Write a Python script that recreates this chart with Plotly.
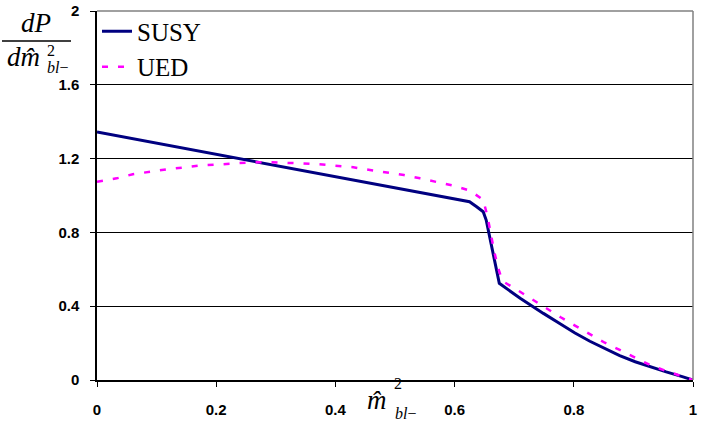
import plotly.graph_objects as go

# values
susy_x = [0.0, 0.1, 0.2, 0.3, 0.4, 0.5, 0.625, 0.637, 0.648, 0.653, 0.659,
          0.675, 0.71, 0.727, 0.749, 0.777, 0.802, 0.827, 0.852, 0.877,
          0.903, 0.928, 0.955, 0.982, 1.0]
susy_y = [1.344, 1.284, 1.223, 1.163, 1.102, 1.042, 0.966, 0.939, 0.912, 0.867, 0.777,
          0.524, 0.443, 0.406, 0.361, 0.305, 0.255, 0.210, 0.169, 0.132,
          0.099, 0.071, 0.044, 0.018, 0.0]

ued_x = [0.0, 0.033, 0.06, 0.089, 0.117, 0.146, 0.174, 0.203, 0.232, 0.26,
         0.289, 0.317, 0.345, 0.373, 0.401, 0.43, 0.458, 0.486, 0.515, 0.542,
         0.57, 0.598, 0.626, 0.648, 0.655, 0.66, 0.666, 0.672, 0.68, 0.705,
         0.729, 0.753, 0.778, 0.802, 0.827, 0.852, 0.877, 0.903, 0.928, 0.955,
         0.982, 1.0]
ued_y = [1.075, 1.093, 1.115, 1.129, 1.142, 1.152, 1.163, 1.168, 1.174, 1.18,
         1.18, 1.178, 1.174, 1.169, 1.162, 1.153, 1.138, 1.126, 1.111, 1.093,
         1.073, 1.053, 1.026, 0.976, 0.889, 0.798, 0.705, 0.618, 0.537, 0.488,
         0.439, 0.389, 0.34, 0.295, 0.249, 0.202, 0.163, 0.119, 0.081, 0.049,
         0.018, 0.0]

x_ticks = [0, 0.2, 0.4, 0.6, 0.8, 1]
x_labels = ['0', '0.2', '0.4', '0.6', '0.8', '1']
y_ticks = [0, 0.4, 0.8, 1.2, 1.6, 2]
y_labels = ['0', '0.4', '0.8', '1.2', '1.6', '2']

W, H = 704, 429
L, R, T, B = 97, 11, 11, 49


def px(x, y):
    # pixel position -> paper coords
    return (x - L) / (W - L - R), (H - B - y) / (H - T - B)


serif = 'Liberation Serif, Times New Roman, serif'
sans = 'Liberation Sans, Arial, sans-serif'

fig = go.Figure()
fig.add_trace(go.Scatter(
    x=susy_x, y=susy_y, mode='lines', name='SUSY',
    line=dict(color='#000080', width=3)
))
fig.add_trace(go.Scatter(
    x=ued_x, y=ued_y, mode='lines', name='UED',
    line=dict(color='#FF00FF', width=2.5, dash='6px,10px')
))

annotations = []


def label(text, x, y, size):
    ax, ay = px(x, y)
    annotations.append(dict(
        text=text, x=ax, y=ay, xref='paper', yref='paper',
        xanchor='center', yanchor='middle', showarrow=False,
        font=dict(family=serif, size=size, color='black')
    ))


# y axis title as a fraction
label('<i>dP</i>', 36, 23, 27)
label('<i>dm\u0302</i>', 23, 57, 27)
label('2', 51, 50, 16)
label('<i>bl</i>\u2212', 57, 68, 16)
# x axis title
label('<i>m\u0302</i>', 377, 400, 27)
label('2', 398, 383, 16)
label('<i>bl</i>\u2212', 406, 413, 16)

bx0, by0 = px(2, 41)
bx1, _ = px(71, 41)

fig.update_layout(
    width=W, height=H,
    margin=dict(l=L, r=R, t=T, b=B, autoexpand=False),
    paper_bgcolor='white', plot_bgcolor='white',
    showlegend=True,
    legend=dict(
        x=0.0, y=1.007, xanchor='left', yanchor='top',
        bgcolor='rgba(0,0,0,0)',
        font=dict(family=serif, size=25, color='black'),
        tracegroupgap=0, itemwidth=30
    ),
    annotations=annotations,
    shapes=[
        dict(type='line', xref='paper', yref='paper', x0=bx0, x1=bx1, y0=by0, y1=by0,
             line=dict(color='black', width=1.5)),
        dict(type='line', xref='paper', yref='paper', x0=0, x1=1, y0=1, y1=1,
             line=dict(color='#808080', width=1.5)),
        dict(type='line', xref='paper', yref='paper', x0=1, x1=1, y0=0, y1=1,
             line=dict(color='#808080', width=1.5)),
    ],
    xaxis=dict(
        range=[0, 1], tickvals=x_ticks, ticktext=x_labels, automargin=False,
        showgrid=False, zeroline=False,
        showline=True, linecolor='black', linewidth=1.5,
        ticks='outside', ticklen=5, tickcolor='black', tickwidth=1,
        ticklabelstandoff=10,
        tickfont=dict(family=sans, size=15, color='black', weight='bold')
    ),
    yaxis=dict(
        range=[0, 2], tickvals=y_ticks, ticktext=y_labels, automargin=False,
        showgrid=True, gridcolor='black', gridwidth=1.2, zeroline=False,
        showline=True, linecolor='black', linewidth=1.5,
        ticks='outside', ticklen=5, tickcolor='black', tickwidth=1,
        ticklabelstandoff=8,
        tickfont=dict(family=sans, size=15, color='black', weight='bold')
    ),
)

fig.write_html('out.html', config={'displayModeBar': False},
               post_script="document.body.style.margin='0';")
